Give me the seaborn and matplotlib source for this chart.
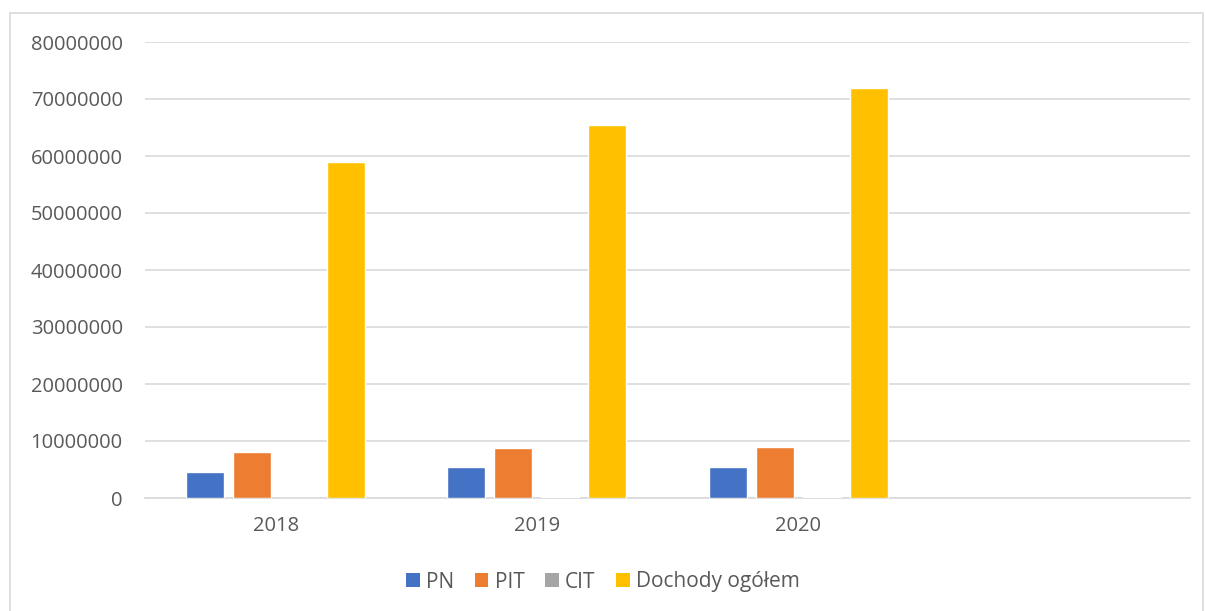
import matplotlib
matplotlib.use("Agg")
import matplotlib.pyplot as plt
import seaborn as sns
import pandas as pd
from matplotlib.patches import Rectangle, Patch

years = ["2018", "2019", "2020"]
series = ["PN", "PIT", "CIT", "Dochody ogółem"]
pn = [4500000, 5400000, 5400000]
pit = [8000000, 8800000, 9000000]
cit = [0, 250000, 250000]
dochody = [58900000, 65400000, 72000000]
colors = ["#4472C4", "#ED7D31", "#A5A5A5", "#FFC000"]
yticks = [0, 10000000, 20000000, 30000000, 40000000, 50000000, 60000000, 70000000, 80000000]

rows = []
for i, y in enumerate(years):
    for s, vals in zip(series, [pn, pit, cit, dochody]):
        rows.append({"rok": y, "seria": s, "wartosc": vals[i]})
df = pd.DataFrame(rows)

sns.set_theme(style="white")
plt.rcParams["font.family"] = ["Open Sans", "DejaVu Sans"]

fig = plt.figure(figsize=(12.06, 6.11), dpi=100)
ax = fig.add_axes([145 / 1206, 1 - 498 / 611, (1190 - 145) / 1206, (498 - 42) / 611])

order = years + [" "]
sns.barplot(data=df, x="rok", y="wartosc", hue="seria", order=order,
            hue_order=series, palette=colors, width=0.72, gap=0.19,
            saturation=1, ax=ax, legend=False, errorbar=None, zorder=3)

ax.set_ylim(0, 80000000)
ax.set_yticks(yticks)
ax.set_yticklabels([str(v) for v in yticks])
ax.set_xlabel("")
ax.set_ylabel("")
ax.grid(axis="y", color="#d9d9d9", linewidth=1.2)
ax.set_axisbelow(True)
for side in ["left", "right", "top"]:
    ax.spines[side].set_visible(False)
ax.spines["bottom"].set_color("#d9d9d9")
ax.spines["bottom"].set_linewidth(1.2)
ax.spines["bottom"].set_zorder(1)
ax.tick_params(axis="both", length=0, labelsize=14.5, labelcolor="#595959")
ax.tick_params(axis="x", pad=13)
ax.tick_params(axis="y", pad=16)

handles = [Patch(facecolor=c, edgecolor="none") for c in colors]
fig.legend(handles, series, loc="center", bbox_to_anchor=(0.5, 1 - 582 / 611),
           ncol=4, frameon=False, fontsize=15, labelcolor="#595959",
           handlelength=0.65, handleheight=0.65, handletextpad=0.3, columnspacing=1.0)

fig.patches.append(Rectangle((10 / 1206, -0.01), (1203 - 10) / 1206, 1 - 13 / 611 + 0.01,
                             transform=fig.transFigure, fill=False,
                             edgecolor="#d9d9d9", linewidth=1.2))

fig.savefig("out.png", dpi=100)
